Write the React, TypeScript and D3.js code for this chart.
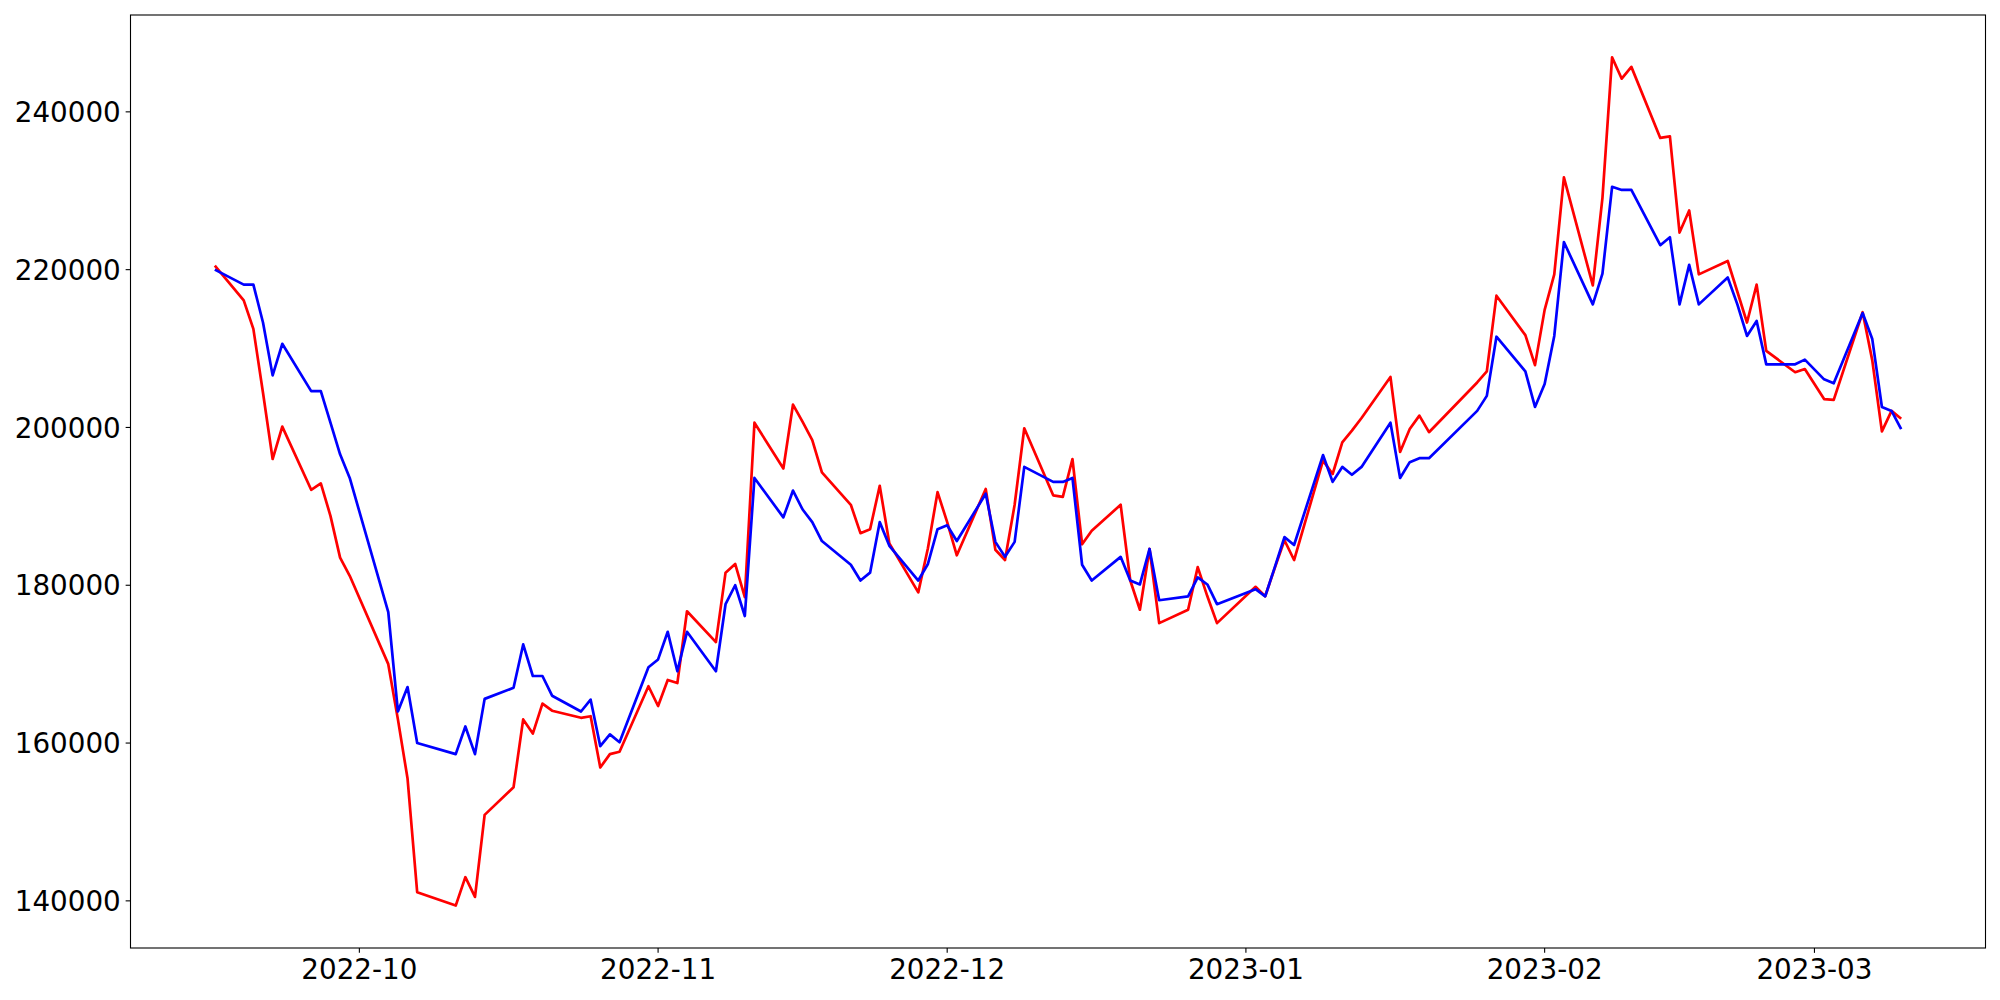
import React from "react";
import * as d3 from "d3";

const dates: string[] = [
  "2022-09-16","2022-09-19","2022-09-20","2022-09-21","2022-09-22","2022-09-23","2022-09-26","2022-09-27","2022-09-28","2022-09-29","2022-09-30",
  "2022-10-04","2022-10-05","2022-10-06","2022-10-07","2022-10-11","2022-10-12","2022-10-13","2022-10-14","2022-10-17","2022-10-18","2022-10-19","2022-10-20","2022-10-21","2022-10-24","2022-10-25","2022-10-26","2022-10-27","2022-10-28","2022-10-31",
  "2022-11-01","2022-11-02","2022-11-03","2022-11-04","2022-11-07","2022-11-08","2022-11-09","2022-11-10","2022-11-11","2022-11-14","2022-11-15","2022-11-16","2022-11-17","2022-11-18","2022-11-21","2022-11-22","2022-11-23","2022-11-24","2022-11-25","2022-11-28","2022-11-29","2022-11-30",
  "2022-12-01","2022-12-02","2022-12-05","2022-12-06","2022-12-07","2022-12-08","2022-12-09","2022-12-12","2022-12-13","2022-12-14","2022-12-15","2022-12-16","2022-12-19","2022-12-20","2022-12-21","2022-12-22","2022-12-23","2022-12-26","2022-12-27","2022-12-28","2022-12-29",
  "2023-01-02","2023-01-03","2023-01-04","2023-01-05","2023-01-06","2023-01-09","2023-01-10","2023-01-11","2023-01-12","2023-01-13","2023-01-16","2023-01-17","2023-01-18","2023-01-19","2023-01-20","2023-01-25","2023-01-26","2023-01-27","2023-01-30","2023-01-31",
  "2023-02-01","2023-02-02","2023-02-03","2023-02-06","2023-02-07","2023-02-08","2023-02-09","2023-02-10","2023-02-13","2023-02-14","2023-02-15","2023-02-16","2023-02-17","2023-02-20","2023-02-21","2023-02-22","2023-02-23","2023-02-24","2023-02-27","2023-02-28",
  "2023-03-02","2023-03-03","2023-03-06","2023-03-07","2023-03-08","2023-03-09","2023-03-10",
];

const redValues: number[] = [
  220500,216100,212500,204400,196000,200100,192100,192900,188800,183500,181200,
  170000,163000,155500,141100,139400,143000,140500,150900,154400,163000,161200,165000,164100,163200,163400,156900,158600,158900,167200,
  164700,168000,167600,176700,172800,181600,182700,178500,200600,194800,202900,200700,198400,194300,190200,186600,187100,192600,185300,179100,184700,191800,
  188000,183800,192200,184500,183200,190200,199900,191400,191200,196000,185200,186900,190200,180600,176900,184600,175200,176900,182300,178600,175200,
  179800,178600,182200,185700,183200,195800,194100,198100,199600,201200,206400,196900,199800,201500,199400,205700,207100,216700,211700,207900,
  214900,219400,231700,218000,229100,246900,244200,245700,236700,236900,224700,227500,219400,221100,217200,213300,218100,209700,207000,207400,
  203600,203500,214600,208500,199500,202100,201100,
];

const blueValues: number[] = [
  220000,218100,218100,213300,206600,210600,204600,204600,200600,196600,193600,
  176600,164000,167100,160000,158600,162100,158600,165600,167000,172500,168500,168500,166000,164000,165500,159600,161100,160100,169600,
  170600,174100,169100,174100,169100,177600,180000,176100,193600,188600,192000,189600,188000,185600,182600,180600,181600,188000,185000,180600,182700,187100,
  187600,185600,191600,185500,183600,185500,195000,193100,193100,193600,182600,180600,183600,180600,180100,184600,178100,178600,181000,180100,177600,
  179500,178600,182300,186100,185100,196500,193100,195000,194000,195000,200600,193600,195600,196100,196100,202100,204000,211500,207100,202600,
  205500,211600,223500,215600,219500,230500,230100,230100,223100,224100,215600,220600,215600,219000,215600,211600,213500,208000,208000,208600,
  206100,205600,214500,211200,202600,202100,199800,
];

const yTicks: number[] = [140000, 160000, 180000, 200000, 220000, 240000];
const xTickLabels: string[] = ["2022-10", "2022-11", "2022-12", "2023-01", "2023-02", "2023-03"];

const W = 2000;
const H = 1000;
const LEFT = 130.5;
const RIGHT = 1985.5;
const TOP = 15;
const BOTTOM = 948;
const FONT = "DejaVu Sans";
const FS = 27.78;
const TICK = 4.86;

export default function App() {
  const parse = d3.timeParse("%Y-%m-%d");
  const parsed = dates.map((d) => parse(d) as Date);
  const [x0, x1] = d3.extent(parsed) as [Date, Date];
  const span = x1.getTime() - x0.getTime();
  const x = d3
    .scaleTime()
    .domain([new Date(x0.getTime() - span * 0.05), new Date(x1.getTime() + span * 0.05)])
    .range([LEFT, RIGHT]);

  const all = redValues.concat(blueValues);
  const [ymin, ymax] = d3.extent(all) as [number, number];
  const ypad = (ymax - ymin) * 0.05;
  const y = d3.scaleLinear().domain([ymin - ypad, ymax + ypad]).range([BOTTOM, TOP]);

  const line = d3
    .line<number>()
    .x((_, i) => x(parsed[i]))
    .y((v) => y(v));

  const monthParse = d3.timeParse("%Y-%m");

  return (
    <svg
      width={W}
      height={H}
      style={{ position: "absolute", left: 0, top: 0, background: "#fff" }}
    >
      <rect x={0} y={0} width={W} height={H} fill="#fff" />
      <path d={line(redValues) || ""} fill="none" stroke="#ff0000" strokeWidth={2.7} strokeLinejoin="round" />
      <path d={line(blueValues) || ""} fill="none" stroke="#0000ff" strokeWidth={2.7} strokeLinejoin="round" />
      <rect
        x={LEFT}
        y={TOP}
        width={RIGHT - LEFT}
        height={BOTTOM - TOP}
        fill="none"
        stroke="#000"
        strokeWidth={1.1}
      />
      {yTicks.map((t) => (
        <g key={"y" + t}>
          <line x1={LEFT - TICK} x2={LEFT} y1={y(t)} y2={y(t)} stroke="#000" strokeWidth={1.1} />
          <text
            x={LEFT - TICK - 4.86}
            y={y(t) + FS * 0.3645}
            textAnchor="end"
            fontFamily={FONT}
            fontSize={FS}
            fill="#000"
          >
            {String(t)}
          </text>
        </g>
      ))}
      {xTickLabels.map((lbl) => {
        const d = monthParse(lbl) as Date;
        const px = x(d);
        return (
          <g key={"x" + lbl}>
            <line x1={px} x2={px} y1={BOTTOM} y2={BOTTOM + TICK} stroke="#000" strokeWidth={1.1} />
            <text
              x={px}
              y={BOTTOM + TICK + 4.86 + FS * 0.729 + 1}
              textAnchor="middle"
              fontFamily={FONT}
              fontSize={FS}
              fill="#000"
            >
              {lbl}
            </text>
          </g>
        );
      })}
    </svg>
  );
}
